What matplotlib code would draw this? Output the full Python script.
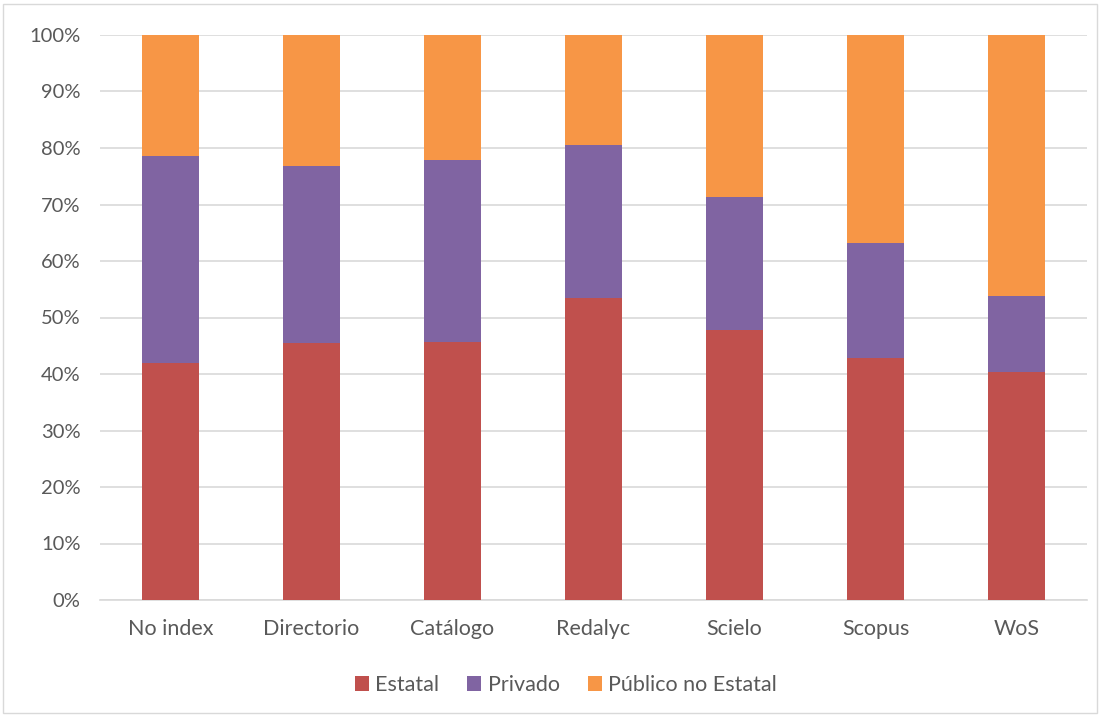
import matplotlib
matplotlib.use("Agg")
import matplotlib.pyplot as plt
from matplotlib.patches import Rectangle
from matplotlib.ticker import FuncFormatter
import numpy as np

categories = ["No index", "Directorio", "Catálogo", "Redalyc", "Scielo", "Scopus", "WoS"]
estatal = [42.0, 45.4, 45.7, 53.4, 47.8, 42.9, 40.3]
privado_top = [78.5, 76.9, 77.8, 80.5, 71.3, 63.1, 53.8]
privado = [p - e for p, e in zip(privado_top, estatal)]
publico = [100 - p for p in privado_top]
series_names = ["Estatal", "Privado", "Público no Estatal"]
colors = ["#C0504D", "#8064A2", "#F79646"]

plt.rcParams['font.family'] = ['Lato', 'DejaVu Sans']

fig = plt.figure(figsize=(11.02, 7.16), dpi=100)
ax = fig.add_axes([100/1102, 1 - 600/716, 987/1102, 565/716])

x = np.arange(len(categories))
bottom = np.zeros(len(categories))
for vals, name, c in zip([estatal, privado, publico], series_names, colors):
    ax.bar(x, vals, bottom=bottom, width=0.4, color=c, label=name, zorder=3)
    bottom += np.array(vals)

ax.set_xlim(-0.5, len(categories) - 0.5)
ax.set_ylim(0, 100)
ax.set_yticks(np.arange(0, 101, 10))
ax.yaxis.set_major_formatter(FuncFormatter(lambda v, p: f"{int(v)}%"))
ax.set_xticks(x)
ax.set_xticklabels(categories)
ax.grid(axis='y', color='#D9D9D9', linewidth=1.2, zorder=0)
for s in ['top', 'right', 'left']:
    ax.spines[s].set_visible(False)
ax.spines['bottom'].set_color('#D9D9D9')
ax.spines['bottom'].set_linewidth(1.2)
ax.tick_params(axis='x', length=0, labelsize=15.5, colors='#595959', pad=14)
ax.tick_params(axis='y', length=0, labelsize=14.5, colors='#595959', pad=14)

leg = fig.legend(loc='center', bbox_to_anchor=(566/1102, 1 - 685/716), ncol=3,
                 frameon=False, fontsize=15.5, handlelength=0.65, handleheight=0.65,
                 handletextpad=0.3, columnspacing=1.3)
for t in leg.get_texts():
    t.set_color('#595959')

fig.patches.append(Rectangle((3/1102, 3/716), 1094/1102, 709/716, transform=fig.transFigure,
                             fill=False, edgecolor='#D9D9D9', linewidth=1))

fig.savefig("out.png", dpi=100)
